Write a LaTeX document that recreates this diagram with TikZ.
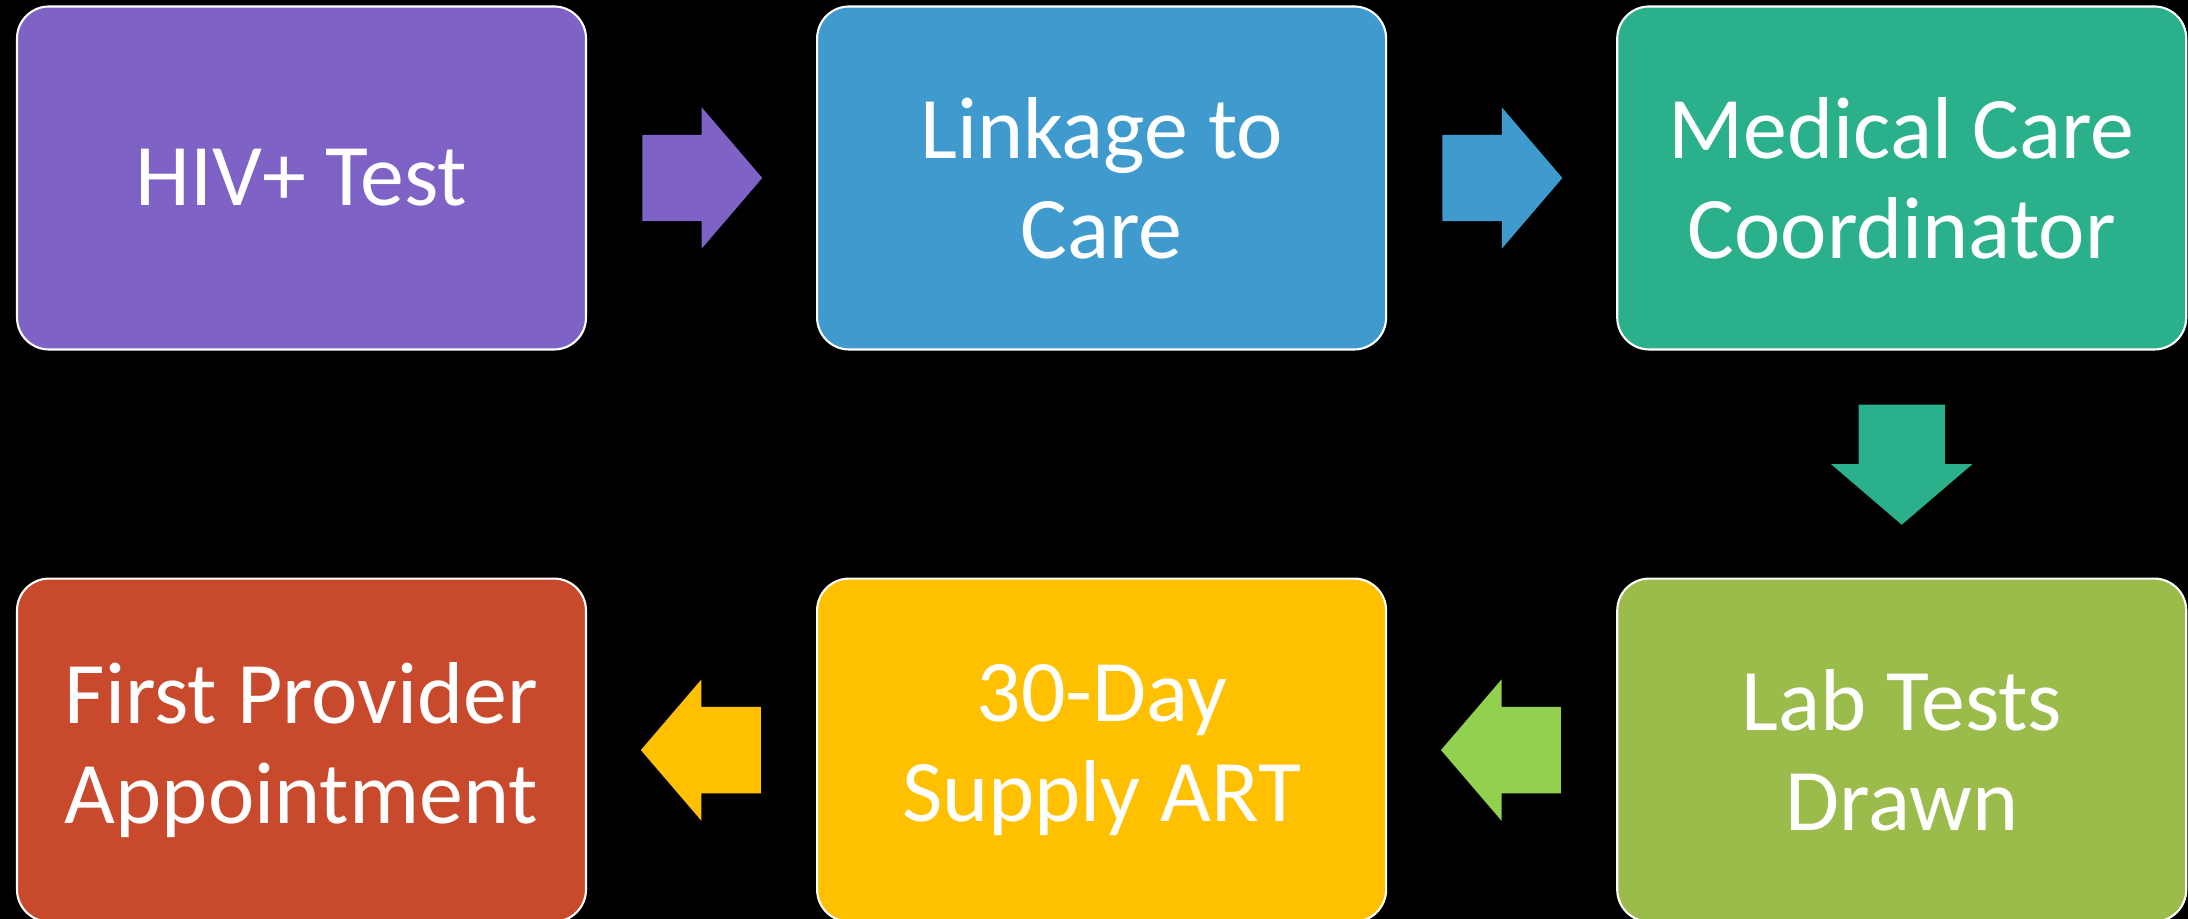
\documentclass[tikz,border=0pt]{standalone}
\usepackage{fontspec}
\setmainfont{Carlito}
\usetikzlibrary{positioning,calc,shapes.arrows}

\definecolor{hivpurple}{HTML}{7E62C5}
\definecolor{linkblue}{HTML}{3F9BCD}
\definecolor{mccteal}{HTML}{2BB08C}
\definecolor{labgreen}{HTML}{9BBB4B}
\definecolor{lightgreen}{HTML}{92D050}
\definecolor{artyellow}{HTML}{FFC000}
\definecolor{provred}{HTML}{C8492C}

\tikzset{
    stagebox/.style = {draw = white, line width = 0.6pt, rounded corners = 0.32cm,
        minimum width = 5.69cm, minimum height = 3.43cm, inner sep = 0pt,
        align = center, text = white, font = \fontsize{25}{28.5}\selectfont},
    blockarrow/.style = {single arrow, draw = none, inner xsep = 0pt, inner ysep = 0.425cm,
        minimum height = 1.2cm, single arrow head extend = 0.275cm,
        single arrow tip angle = 98.8, anchor = tail}
}

\begin{document}
\begin{tikzpicture}
        \fill[black] (0, 0) rectangle (21.88, 9.19);
        \useasboundingbox (0, 0) rectangle (21.88, 9.19);

        % top row, left to right
        \node[stagebox, fill = hivpurple] (hiv) at (3.015, 7.41) {HIV+ Test};
        \node[stagebox, fill = linkblue, right = 2.29cm of hiv] (link) {Linkage to\\Care};
        \node[stagebox, fill = mccteal, right = 2.29cm of link] (mcc) {Medical Care\\Coordinator};

        % bottom row, right to left
        \node[stagebox, fill = labgreen, below = 2.27cm of mcc] (lab) {Lab Tests\\Drawn};
        \node[stagebox, fill = artyellow, left = 2.29cm of lab] (art) {30-Day\\Supply ART};
        \node[stagebox, fill = provred, left = 2.29cm of art] (prov) {First Provider\\Appointment};

        % block arrows, tail set back half their length from the gap's middle
        \foreach \from/\to/\col/\rot in {hiv/link/hivpurple/0, link/mcc/linkblue/0,
                mcc/lab/mccteal/270, lab/art/lightgreen/180, art/prov/artyellow/180}{
            \node[blockarrow, fill = \col, rotate = \rot]
                (arr-\from) at ($(\from)!0.5!(\to)!0.6cm!(\from)$) {};
        }
    \end{tikzpicture}
\end{document}
